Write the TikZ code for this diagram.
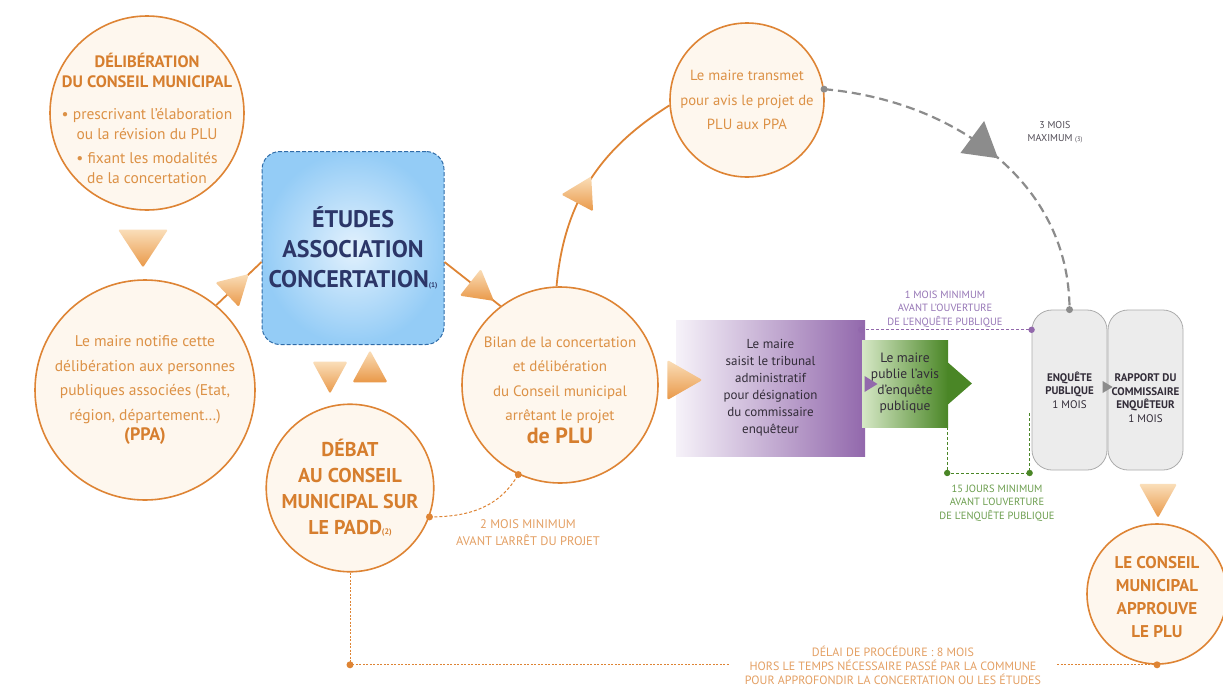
\documentclass[tikz,border=0pt]{standalone}
\usepackage{fontspec}
\setmainfont{PT Sans}
\usetikzlibrary{shapes.geometric,calc}
\definecolor{oline}{RGB}{222,132,52}
\definecolor{otext}{RGB}{220,145,70}
\definecolor{otitle}{RGB}{214,126,46}
\definecolor{olabel}{RGB}{228,160,100}
\definecolor{cream}{RGB}{254,247,238}
\definecolor{triL}{RGB}{250,222,185}
\definecolor{triD}{RGB}{233,152,72}
\definecolor{bluein}{RGB}{226,241,253}
\definecolor{blueout}{RGB}{148,204,246}
\definecolor{bluedash}{RGB}{48,108,168}
\definecolor{navy}{RGB}{44,54,104}
\definecolor{purpL}{RGB}{246,242,249}
\definecolor{purpD}{RGB}{146,104,172}
\definecolor{purptext}{RGB}{150,118,182}
\definecolor{greenL}{RGB}{214,232,198}
\definecolor{greenD}{RGB}{74,134,38}
\definecolor{greentext}{RGB}{108,158,78}
\definecolor{grayfill}{RGB}{236,236,236}
\definecolor{graydraw}{RGB}{172,172,172}
\definecolor{graydark}{RGB}{140,140,140}
\definecolor{darktext}{RGB}{50,44,56}
\newcommand\mytitle[1]{{\bfseries\color{otitle}\fontsize{16.5}{20}\selectfont #1}}
\newcommand\mybold[2]{{\bfseries\color{otitle}\fontsize{#1}{#1}\selectfont #2}}
\begin{document}
\begin{tikzpicture}[x=1pt,y=-1pt,
  circ/.style={circle, draw=oline, line width=1.6pt, fill=cream, inner sep=0pt,
    align=center, text=otext, font=\fontsize{15.5}{24.5}\selectfont},
  ctext/.style={align=center, text=otext, inner sep=0pt},
  otri/.style={isosceles triangle, isosceles triangle stretches, inner sep=0pt,
    minimum width=38pt, minimum height=34pt, draw=none,
    top color=triL, bottom color=triD, rounded corners=1.5pt},
  oconn/.style={draw=oline, line width=1.8pt},
  odash/.style={draw=oline, line width=1pt, dash pattern=on 3pt off 2pt},
  odot/.style={draw=oline, line width=0.8pt, dash pattern=on 2pt off 1.5pt},
  gdash/.style={draw=graydark, line width=2.2pt, dash pattern=on 9pt off 5pt},
  pdash/.style={draw=purpD, line width=1pt, dash pattern=on 3pt off 2pt},
  grdash/.style={draw=greenD, line width=1pt, dash pattern=on 3pt off 2pt},
  lbl/.style={align=center, font=\fontsize{10.5}{13.5}\selectfont, inner sep=0pt},
  gbox/.style={rectangle, rounded corners=20pt, draw=graydraw, line width=0.8pt,
    fill=grayfill, minimum width=75pt, minimum height=160pt, inner sep=0pt,
    align=center, text=darktext, font=\fontsize{11}{13.5}\selectfont}
]
\useasboundingbox[fill=white] (0,0) rectangle (1223,688);

% circles
\node[circ, minimum size=194pt] (c1) at (147,113) {};
\node[ctext, font=\fontsize{15.5}{20}\selectfont] (c1t) at (147,118) {\mytitle{DÉLIBÉRATION}\\\mytitle{DU CONSEIL MUNICIPAL}\\[12pt]• prescrivant l’élaboration\\ou la révision du PLU\\[4pt]• fixant les modalités\\de la concertation};
\node[circ, minimum size=220pt] (c2) at (145,390) {Le maire notifie cette\\délibération aux personnes\\publiques associées (Etat,\\région, département…)\\[-4pt]\mybold{18}{(PPA)}};
\node[circ, minimum size=196pt] (bilan) at (560,385) {};
\node[ctext, font=\fontsize{15}{24.5}\selectfont] (bilant) at (560,390) {Bilan de la concertation\\et délibération\\du Conseil municipal\\arrêtant le projet\\[-2pt]\mybold{22}{de PLU}};
\node[circ, minimum size=156pt, text=otitle, font=\bfseries\fontsize{20}{26}\selectfont] (debat) at (350,488) {DÉBAT\\AU CONSEIL\\MUNICIPAL SUR\\LE PADD{\fontsize{8}{8}\selectfont(2)}};
\node[circ, minimum size=154pt, font=\fontsize{14.7}{24.5}\selectfont] (trans) at (747,100) {Le maire transmet\\pour avis le projet de\\PLU aux PPA};
\node[circ, minimum size=140pt] (appr) at (1157,594) {};
\node[ctext, text=otitle, font=\bfseries\fontsize{17}{23}\selectfont] (apprt) at (1157,597) {LE CONSEIL\\MUNICIPAL\\APPROUVE\\LE PLU};

% blue box
\node[rectangle, rounded corners=18pt, minimum width=182pt, minimum height=193pt,
  inner color=bluein, outer color=blueout, draw=bluedash, line width=1pt,
  dash pattern=on 4pt off 2pt, align=center, text=navy,
  font=\bfseries\fontsize{24}{30}\selectfont] (blue) at (353,248) {ÉTUDES\\ASSOCIATION\\CONCERTATION{\fontsize{7}{7}\selectfont(1)}};

% purple and green boxes
\node[rectangle, minimum width=189pt, minimum height=136pt, inner sep=0pt,
  left color=purpL, right color=purpD, align=center, text=darktext,
  font=\fontsize{13}{17}\selectfont] (purple) at (770.5,388) {Le maire\\saisit le tribunal\\administratif\\pour désignation\\du commissaire\\enquêteur};
\node[rectangle, minimum width=86pt, minimum height=87pt, inner sep=0pt,
  left color=greenL, right color=greenD, align=center, text=darktext,
  font=\fontsize{13.5}{16}\selectfont] (green) at (905,383.5) {Le maire\\publie l’avis\\d’enquête\\publique};
\node[isosceles triangle, isosceles triangle stretches, inner sep=0pt, minimum width=42pt,
  minimum height=24pt, fill=greenD, anchor=lower side] (gtip) at ([xshift=-0.5pt]green.east) {};
\node[isosceles triangle, isosceles triangle stretches, inner sep=0pt, minimum width=16pt,
  minimum height=13pt, fill=purpD] (ptip) at (869,384) {};

% enquete boxes
\node[gbox] (enq) at (1069.5,390) {\textbf{ENQUÊTE}\\\textbf{PUBLIQUE}\\1 MOIS};
\node[gbox] (rap) at (1145.5,390) {};
\node[ctext, text=darktext, font=\fontsize{11}{13.5}\selectfont] (rapt) at (1145.5,398) {\textbf{RAPPORT DU}\\\textbf{COMMISSAIRE}\\\textbf{ENQUÊTEUR}\\1 MOIS};
\node[isosceles triangle, isosceles triangle stretches, inner sep=0pt, minimum width=12pt,
  minimum height=10pt, fill=graydark] (etip) at (1106,387) {};

% standalone triangles
\node[otri, rotate=-90, minimum width=50pt, minimum height=38pt] (t1) at (143,243) {};
\node[otri, rotate=-90, minimum width=35pt, minimum height=32pt] (t2) at (330,372) {};
\node[otri, rotate=90, minimum width=35pt, minimum height=32pt] (t3) at (370,372) {};
\node[otri, minimum width=40pt, minimum height=35pt] (t4) at (679,380) {};
\node[otri, rotate=-90, minimum width=38pt, minimum height=34pt] (t5) at (1158,495) {};

% connectors
\draw[oconn] (c2.50) -- node[otri, sloped, pos=0.4, minimum width=34pt, minimum height=30pt] {} ([yshift=-14pt]blue.east -| blue.west);
\draw[oconn] ([yshift=-14pt]blue.east) -- node[otri, sloped, pos=0.6, minimum width=34pt, minimum height=30pt] {} (bilan.127);
\draw[oconn] (bilan.92) to[out=85,in=212] node[otri, sloped, pos=0.43, minimum width=36pt, minimum height=30pt] {} (trans.184);

\draw[gdash] (trans.8) to[out=-5,in=90] node[pos=0.45, isosceles triangle, isosceles triangle stretches, inner sep=0pt, minimum width=38pt, minimum height=35pt, fill=graydark, rotate=82] {} (enq.north);
\fill[graydark] (trans.8) circle (3.5pt) (enq.north) circle (3.5pt);
\node[lbl, text=darktext!85, font=\fontsize{10}{13}\selectfont] (lab3) at (1055,132) {3 MOIS\\MAXIMUM {\fontsize{6.5}{6.5}\selectfont(3)}};

\draw[odash] (debat.-20) to[out=0,in=-120] (bilan.-115);
\fill[oline] (debat.-20) circle (3.5pt) (bilan.-115) circle (3.5pt);
\node[lbl, text=olabel, font=\fontsize{12.5}{17}\selectfont] (lab2) at (528,533) {2 MOIS MINIMUM\\AVANT L’ARRÊT DU PROJET};

\coordinate (pA) at ([xshift=-4pt,yshift=-10pt]purple.north east);
\coordinate (pB) at (enq.west |- pA);
\draw[pdash] (pA) -- (pB);
\fill[purpD] (pA) circle (3.2pt) (pB) circle (3.2pt);
\node[lbl, text=purptext] (lab1) at (945,309) {1 MOIS MINIMUM\\AVANT L’OUVERTURE\\DE L’ENQUÊTE PUBLIQUE};

\coordinate (gA) at ([xshift=-1pt]green.south east);
\coordinate (gB) at (gA |- 0,473);
\coordinate (gC) at ([xshift=-2pt]enq.west |- gB);
\draw[grdash] (gA) -- (gB) -- (gC) -- ++(0,-61);
\fill[greenD] (gB) circle (3.2pt) (gC) circle (3.2pt);
\node[lbl, text=greentext] (lab15) at (997,503) {15 JOURS MINIMUM\\AVANT L’OUVERTURE\\DE L’ENQUÊTE PUBLIQUE};

\node[lbl, text=olabel, font=\fontsize{12}{14}\selectfont, inner xsep=16pt] (delai) at (893,665) {DÉLAI DE PROCÉDURE : 8 MOIS\\HORS LE TEMPS NÉCESSAIRE PASSÉ PAR LA COMMUNE\\POUR APPROFONDIR LA CONCERTATION OU LES ÉTUDES};
\coordinate (bl) at (debat.south |- appr.south);
\draw[odot] (debat.south) -- (bl) -- (delai.west |- bl);
\draw[odot] (delai.east |- bl) -- (appr.south);
\fill[oline] (bl) circle (3.5pt) (appr.south) circle (3.5pt);
\end{tikzpicture}
\end{document}
